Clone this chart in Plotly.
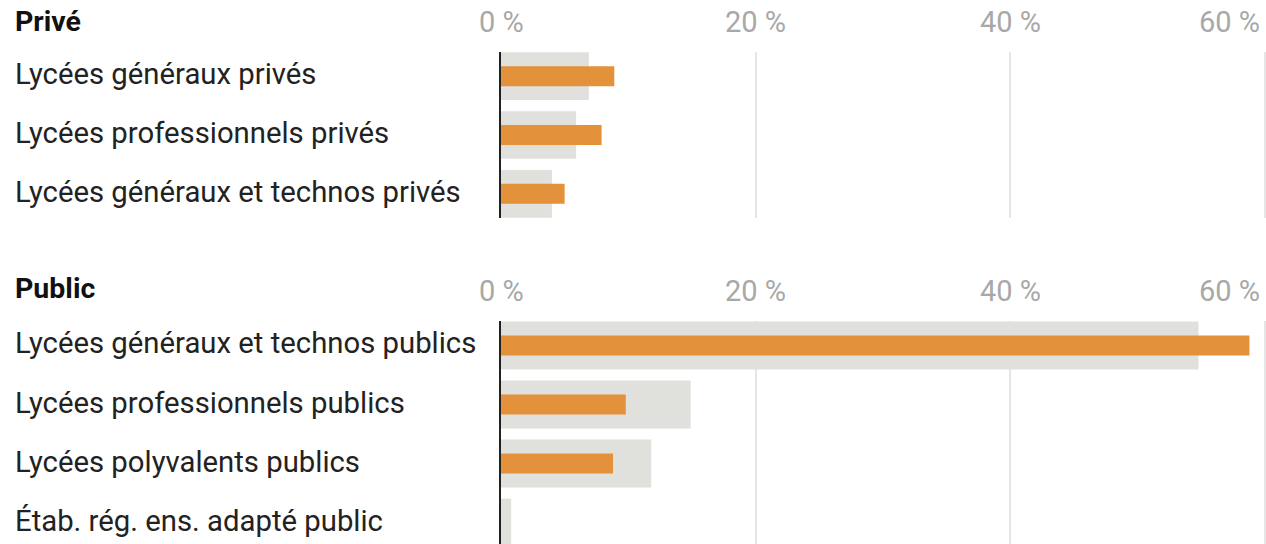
import plotly.graph_objects as go

# ---- data ----
prive_labels = ["Lycées généraux privés", "Lycées professionnels privés", "Lycées généraux et technos privés"]
prive_gray = [6.9, 5.9, 4.0]
prive_orange = [8.9, 7.9, 5.0]

public_labels = ["Lycées généraux et technos publics", "Lycées professionnels publics",
                 "Lycées polyvalents publics", "Étab. rég. ens. adapté public"]
public_gray = [54.8, 14.9, 11.8, 0.8]
public_orange = [58.8, 9.8, 8.8, 0.0]

tick_vals = [0, 20, 40, 60]
tick_text = ["0 %", "20 %", "40 %", "60 %"]
panel_titles = ["Privé", "Public"]

# ---- style ----
W, H = 1266, 544
GRAY = "#E0E0DC"
ORANGE = "#E3913A"
TXT = "#222222"
TICK = "#A8A8A8"
FONT = "Roboto"
x0px = 501

def py(p):
    return 1 - p / H

fig = go.Figure()
fig.add_trace(go.Bar(y=prive_labels, x=prive_gray, orientation="h", marker_color=GRAY,
                     marker_line_width=0, width=0.81, xaxis="x", yaxis="y", hoverinfo="skip"))
fig.add_trace(go.Bar(y=prive_labels, x=prive_orange, orientation="h", marker_color=ORANGE,
                     marker_line_width=0, width=0.34, xaxis="x", yaxis="y"))
fig.add_trace(go.Bar(y=public_labels, x=public_gray, orientation="h", marker_color=GRAY,
                     marker_line_width=0, width=0.81, xaxis="x2", yaxis="y2", hoverinfo="skip"))
fig.add_trace(go.Bar(y=public_labels, x=public_orange, orientation="h", marker_color=ORANGE,
                     marker_line_width=0, width=0.34, xaxis="x2", yaxis="y2"))

xcommon = dict(range=[0, 60.1], tickvals=tick_vals, showticklabels=False, showgrid=True,
               gridcolor="#E6E6E6", gridwidth=2, zeroline=False, showline=False,
               domain=[x0px / W, 1], fixedrange=True)
ycommon = dict(type="category", showticklabels=False, showgrid=False, zeroline=False,
               showline=True, linecolor=TXT, linewidth=2, fixedrange=True)

fig.update_layout(
    width=W, height=H,
    margin=dict(l=0, r=0, t=0, b=0),
    paper_bgcolor="white", plot_bgcolor="white",
    showlegend=False, barmode="overlay",
    font=dict(family=FONT, color=TXT, size=28),
    xaxis=dict(**xcommon, anchor="y"),
    yaxis=dict(**ycommon, anchor="x", domain=[py(218), py(52)], range=[2.41, -0.41]),
    xaxis2=dict(**xcommon, anchor="y2"),
    yaxis2=dict(**ycommon, anchor="x2", domain=[0, py(321)], range=[3.364, -0.415]),
)

ann = []
# tick labels
for axis, ypx in (("x", 22), ("x2", 291)):
    for i, (v, t) in enumerate(zip(tick_vals, tick_text)):
        last = i == len(tick_vals) - 1
        ann.append(dict(xref=axis, yref="paper", x=v, y=py(ypx), text=t, showarrow=False,
                        xanchor="right" if last else "center", yanchor="middle",
                        xshift=-3 if last else 0,
                        font=dict(family=FONT, size=29, color=TICK)))
# panel titles
for title, ypx in zip(panel_titles, (22, 288)):
    ann.append(dict(xref="paper", yref="paper", x=13 / W, y=py(ypx), text="<b>" + title + "</b>",
                    showarrow=False, xanchor="left", yanchor="middle",
                    font=dict(family=FONT, size=28.5, color="#111111")))
# row labels
for labels, yref in ((prive_labels, "y"), (public_labels, "y2")):
    for lab in labels:
        ann.append(dict(xref="paper", yref=yref, x=13 / W, y=lab, text=lab, showarrow=False,
                        xanchor="left", yanchor="middle", yshift=2,
                        font=dict(family=FONT, size=29.3, color=TXT)))
fig.update_layout(annotations=ann)

fig.write_html("out.html", config={"displayModeBar": False},
               post_script="document.body.style.margin='0';document.body.style.overflow='hidden';")
